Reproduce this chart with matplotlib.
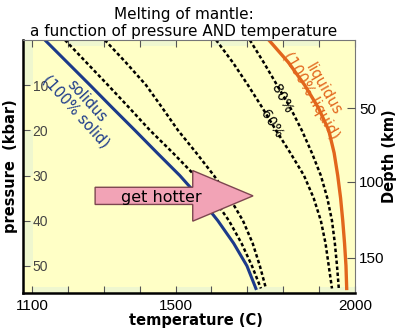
import numpy as np
import matplotlib.pyplot as plt
from matplotlib.patches import FancyArrow, Rectangle

# pressure levels (kbar) where the melting curves were read
pressure = [0, 5, 10, 15, 20, 25, 30, 35, 40, 45, 50, 55]

# temperatures (C) of each curve at those pressures
solidus = [1136, 1199, 1262, 1324, 1387, 1449, 1512, 1568, 1618, 1662, 1699, 1724]
melt20 = [1192, 1252, 1312, 1371, 1429, 1493, 1554, 1605, 1649, 1684, 1713, 1738]
melt40 = [1303, 1362, 1418, 1463, 1507, 1558, 1607, 1651, 1688, 1715, 1735, 1752]
melt60 = [1613, 1660, 1702, 1742, 1780, 1820, 1858, 1885, 1905, 1918, 1927, 1936]
melt80 = [1707, 1746, 1783, 1820, 1852, 1880, 1905, 1923, 1936, 1944, 1950, 1955]
liquidus = [1760, 1815, 1860, 1898, 1927, 1942, 1952, 1960, 1966, 1971, 1975, 1977]

temp_ticks = [1100, 1200, 1300, 1400, 1500, 1600, 1700, 1800, 1900, 2000]
temp_labels = ['1100', '', '', '', '1500', '', '', '', '', '2000']
press_ticks = [10, 20, 30, 40, 50]
depth_labels = ['50', '100', '150']
depth_at_kbar = [15.1, 31.4, 48.2]

BG = '#ffffc6'
BAND = '#eff7cf'
BLUE = '#1c3a8a'
ORANGE = '#e2661c'

fig = plt.figure(figsize=(3.99, 3.32), dpi=100)
ax = fig.add_axes([0.0576, 0.1175, 0.832, 0.762])
ax.set_facecolor(BG)
ax.set_xlim(1075, 2000)
ax.set_ylim(56, 0)

# pale ruler bands along the frame
for i in range(0, len(temp_ticks) - 1, 2):
    ax.add_patch(Rectangle((temp_ticks[i], 54.7), 100, 1.3, color=BAND, lw=0, zorder=0.5))
    ax.add_patch(Rectangle((temp_ticks[i] + 100, 0), 100, 1.3, color=BAND, lw=0, zorder=0.5))
for p0 in [0, 20, 40]:
    ax.add_patch(Rectangle((1075, p0), 27, 10, color=BAND, lw=0, zorder=0.5))

dash = (0, (1.4, 1.0))
ax.plot(solidus, pressure, color=BLUE, lw=2.2, zorder=2)
for curve in [melt20, melt40, melt60, melt80]:
    ax.plot(curve, pressure, color='black', lw=1.8, ls=dash, zorder=2)
ax.plot(liquidus, pressure, color=ORANGE, lw=2.4, zorder=2)

ax.text(1238, 14.6, 'solidus\n(100% solid)', color=BLUE, fontsize=10.5,
        rotation=-48, ha='center', va='center', multialignment='center',
        linespacing=1.0)
ax.text(1895, 11.6, 'liquidus\n(100% liquid)', color=ORANGE, fontsize=10.5,
        rotation=-60, ha='center', va='center', multialignment='center',
        linespacing=1.0)
ax.text(1796, 12.9, '80%', fontsize=10, rotation=-62, ha='center', va='center')
ax.text(1768, 18.5, '60%', fontsize=10, rotation=-58, ha='center', va='center')

# "get hotter" arrow
arrow_start, arrow_end, arrow_p = 1276, 1716, 34.5
ax.add_patch(FancyArrow(arrow_start, arrow_p, arrow_end - arrow_start, 0,
                        width=3.8, head_width=11.2, head_length=168,
                        length_includes_head=True, facecolor='#f2a3b6',
                        edgecolor='#7d4650', lw=1.0, zorder=3))
ax.text(1460, arrow_p + 0.3, 'get hotter', fontsize=11.5, ha='center', va='center',
        zorder=4)

ax.set_xticks(temp_ticks)
ax.set_xticklabels(temp_labels, fontsize=11, family='Liberation Sans')
ax.set_yticks(press_ticks)
ax.set_yticklabels([str(p) for p in press_ticks], fontsize=10,
                   family='Liberation Sans', color='#444444')
ax.tick_params(axis='x', direction='in', length=5, width=0.8, pad=4,
               top=True, color='#555555')
ax.tick_params(axis='y', direction='in', length=5, width=0.8, pad=-7,
               color='#555555')
for lbl in ax.get_yticklabels():
    lbl.set_horizontalalignment('left')

for side in ['left', 'bottom']:
    ax.spines[side].set_linewidth(1.8)
    ax.spines[side].set_color('black')
for side in ['top', 'right']:
    ax.spines[side].set_linewidth(0.8)
    ax.spines[side].set_color('#777777')

# depth scale on the right
ax2 = ax.twinx()
ax2.set_ylim(ax.get_ylim())
ax2.set_yticks(depth_at_kbar)
ax2.set_yticklabels(depth_labels, fontsize=11, family='Liberation Sans')
ax2.tick_params(axis='y', direction='in', length=6, width=0.8, pad=3, color='#555555')
for s in ax2.spines.values():
    s.set_visible(False)

fig.text(0.46, 0.978, 'Melting of mantle:', fontsize=11, ha='center', va='top')
fig.text(0.46, 0.928, 'a function of pressure AND temperature', fontsize=11,
         ha='center', va='top')
fig.text(0.027, 0.50, 'pressure  (kbar)', fontsize=10.5, fontweight='bold',
         rotation=90, ha='center', va='center')
fig.text(0.977, 0.53, 'Depth (km)', fontsize=10.5, fontweight='bold',
         rotation=90, ha='center', va='center')
fig.text(0.49, 0.035, 'temperature (C)', fontsize=10.5, fontweight='bold',
         ha='center', va='center')

fig.savefig('out.png', dpi=100)
